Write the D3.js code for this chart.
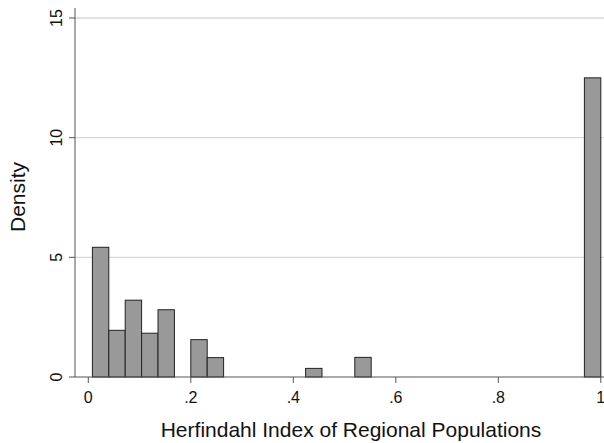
<!DOCTYPE html>
<html>
<head>
<meta charset="utf-8">
<script src="https://cdn.jsdelivr.net/npm/d3@7/dist/d3.min.js"></script>
<style>
  body { margin: 0; background: #fff; }
  text { font-family: "Liberation Sans", Arial, Helvetica, sans-serif; fill: #111; }
</style>
</head>
<body>
<script>
// Histogram bins (left edge of each non-empty bin) and densities
var binStarts = [0.008, 0.040, 0.072, 0.104, 0.136, 0.200, 0.232, 0.424, 0.520, 0.968];
var binWidth = 0.032;
var densities = [5.42, 1.95, 3.21, 1.83, 2.81, 1.56, 0.81, 0.36, 0.82, 12.5];

var xTicks = [0, 0.2, 0.4, 0.6, 0.8, 1];
var xTickLabels = ["0", ".2", ".4", ".6", ".8", "1"];
var yTicks = [0, 5, 10, 15];

var width = 604, height = 443;

var svg = d3.select("body").append("svg")
    .attr("width", width)
    .attr("height", height);

////////////////////////////
// Scales
var x = d3.scaleLinear().domain([0, 1]).range([88.3, 600.8]);
var y = d3.scaleLinear().domain([0, 15]).range([377, 18]);

var axisX = 75, axisTop = 8, axisRight = 604;

////////////////////////////
// Gridlines
svg.selectAll("line.grid")
    .data(yTicks.filter(function(d) { return d > 0; }))
    .enter()
    .append("line")
    .attr("class", "grid")
    .attr("x1", axisX)
    .attr("x2", axisRight)
    .attr("y1", function(d) { return y(d); })
    .attr("y2", function(d) { return y(d); })
    .attr("stroke", "#d9d9d9")
    .attr("stroke-width", 1.3);

////////////////////////////
// Bars
svg.selectAll("rect.bar")
    .data(binStarts)
    .enter()
    .append("rect")
    .attr("class", "bar")
    .attr("x", function(d) { return x(d); })
    .attr("width", function(d) { return x(d + binWidth) - x(d); })
    .attr("y", function(d, i) { return y(densities[i]); })
    .attr("height", function(d, i) { return y(0) - y(densities[i]); })
    .attr("fill", "#999999")
    .attr("stroke", "#222")
    .attr("stroke-width", 1);

////////////////////////////
// Axis lines
svg.append("line")
    .attr("x1", axisX).attr("x2", axisX)
    .attr("y1", axisTop).attr("y2", y(0))
    .attr("stroke", "#555").attr("stroke-width", 1);

svg.append("line")
    .attr("x1", axisX).attr("x2", axisRight)
    .attr("y1", y(0)).attr("y2", y(0))
    .attr("stroke", "#555").attr("stroke-width", 1);

// Y ticks and rotated labels
svg.selectAll("line.ytick")
    .data(yTicks)
    .enter()
    .append("line")
    .attr("class", "ytick")
    .attr("x1", axisX - 6).attr("x2", axisX)
    .attr("y1", function(d) { return y(d); })
    .attr("y2", function(d) { return y(d); })
    .attr("stroke", "#555");

svg.selectAll("text.ytick")
    .data(yTicks)
    .enter()
    .append("text")
    .attr("class", "ytick")
    .attr("transform", function(d) { return "translate(61.5," + y(d) + ") rotate(-90)"; })
    .attr("text-anchor", "middle")
    .attr("font-size", "16px")
    .text(function(d) { return d; });

// X ticks and labels
svg.selectAll("line.xtick")
    .data(xTicks)
    .enter()
    .append("line")
    .attr("class", "xtick")
    .attr("x1", function(d) { return x(d); })
    .attr("x2", function(d) { return x(d); })
    .attr("y1", y(0)).attr("y2", y(0) + 6)
    .attr("stroke", "#555");

svg.selectAll("text.xtick")
    .data(xTicks)
    .enter()
    .append("text")
    .attr("class", "xtick")
    .attr("x", function(d) { return x(d); })
    .attr("y", 403)
    .attr("text-anchor", "middle")
    .attr("font-size", "16px")
    .text(function(d, i) { return xTickLabels[i]; });

////////////////////////////
// Axis titles
svg.append("text")
    .attr("x", 351)
    .attr("y", 437)
    .attr("text-anchor", "middle")
    .attr("font-size", "21px")
    .text("Herfindahl Index of Regional Populations");

svg.append("text")
    .attr("transform", "translate(25,197) rotate(-90)")
    .attr("text-anchor", "middle")
    .attr("font-size", "21px")
    .text("Density");
</script>
</body>
</html>
